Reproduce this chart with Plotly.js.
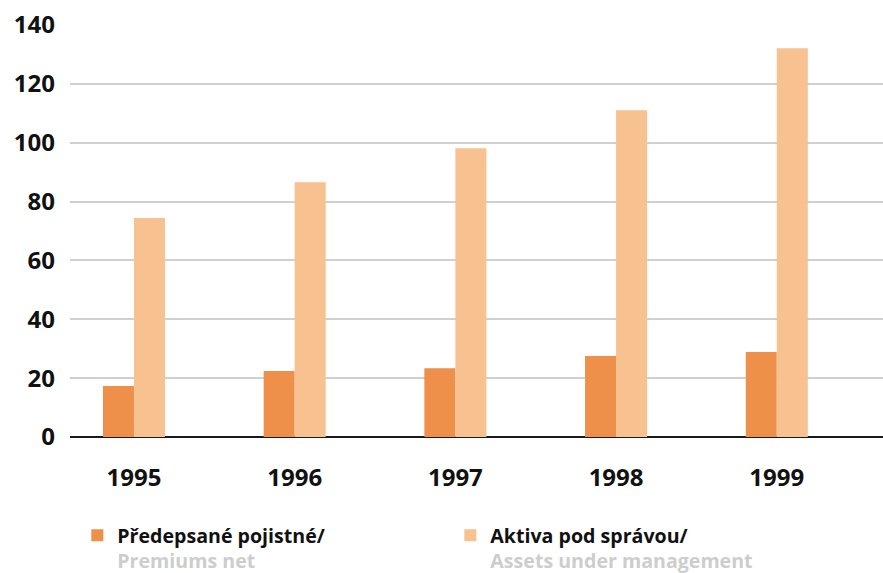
<!DOCTYPE html>
<html>
<head>
<meta charset="utf-8">
<script src="https://cdn.plot.ly/plotly-3.0.1.min.js"></script>
<style>html,body{margin:0;padding:0;background:#fff;}#chart{width:883px;height:573px;}</style>
</head>
<body>
<div id="chart"></div>
<script>
const years = ['1995', '1996', '1997', '1998', '1999'];
const premiumsNet = [17.3, 22.4, 23.4, 27.5, 28.9];
const assetsUnderManagement = [74.4, 86.6, 98.1, 111.0, 132.1];
const seriesNames = [
  'Předepsané pojistné/<br><span style="color:#cdcdcd">Premiums net</span>',
  'Aktiva pod správou/<br><span style="color:#cdcdcd">Assets under management</span>'
];
const yTicks = [0, 20, 40, 60, 80, 100, 120, 140];

const traces = [
  {type: 'bar', x: years, y: premiumsNet, name: seriesNames[0], marker: {color: '#ee8f4a'}, hoverinfo: 'x+y'},
  {type: 'bar', x: years, y: assetsUnderManagement, name: seriesNames[1], marker: {color: '#f7c190'}, hoverinfo: 'x+y'}
];

const layout = {
  width: 883, height: 573,
  margin: {l: 70, r: 0, t: 25, b: 136, autoexpand: false},
  paper_bgcolor: '#ffffff', plot_bgcolor: '#ffffff',
  barmode: 'group', bargap: 0.614, bargroupgap: 0,
  font: {family: 'Open Sans, sans-serif', color: '#111111'},
  showlegend: true,
  legend: {
    orientation: 'h', x: 0.009, y: -0.192, xanchor: 'left', yanchor: 'top',
    font: {family: 'Open Sans, sans-serif', size: 19.6, color: '#111111', weight: 'bold'},
    entrywidthmode: 'pixels', entrywidth: 328, valign: 'top',
    traceorder: 'normal', bgcolor: 'rgba(0,0,0,0)'
  },
  xaxis: {
    type: 'category', range: [-0.398, 4.661],
    showgrid: false, showline: false, zeroline: false, ticks: '',
    tickfont: {family: 'Open Sans, sans-serif', size: 24, color: '#111111', weight: 'bold'},
    ticklabelstandoff: 24
  },
  yaxis: {
    range: [0, 140], tickvals: yTicks, ticktext: yTicks.map(String),
    showgrid: true, gridcolor: '#d0d0d0', gridwidth: 2,
    zeroline: true, zerolinecolor: '#1a1a1a', zerolinewidth: 2,
    showline: false, ticks: '',
    tickfont: {family: 'Open Sans, sans-serif', size: 24, color: '#111111', weight: 'bold'},
    ticklabelstandoff: 14
  }
};

Plotly.newPlot('chart', traces, layout, {displayModeBar: false, staticPlot: true});
</script>
</body>
</html>
